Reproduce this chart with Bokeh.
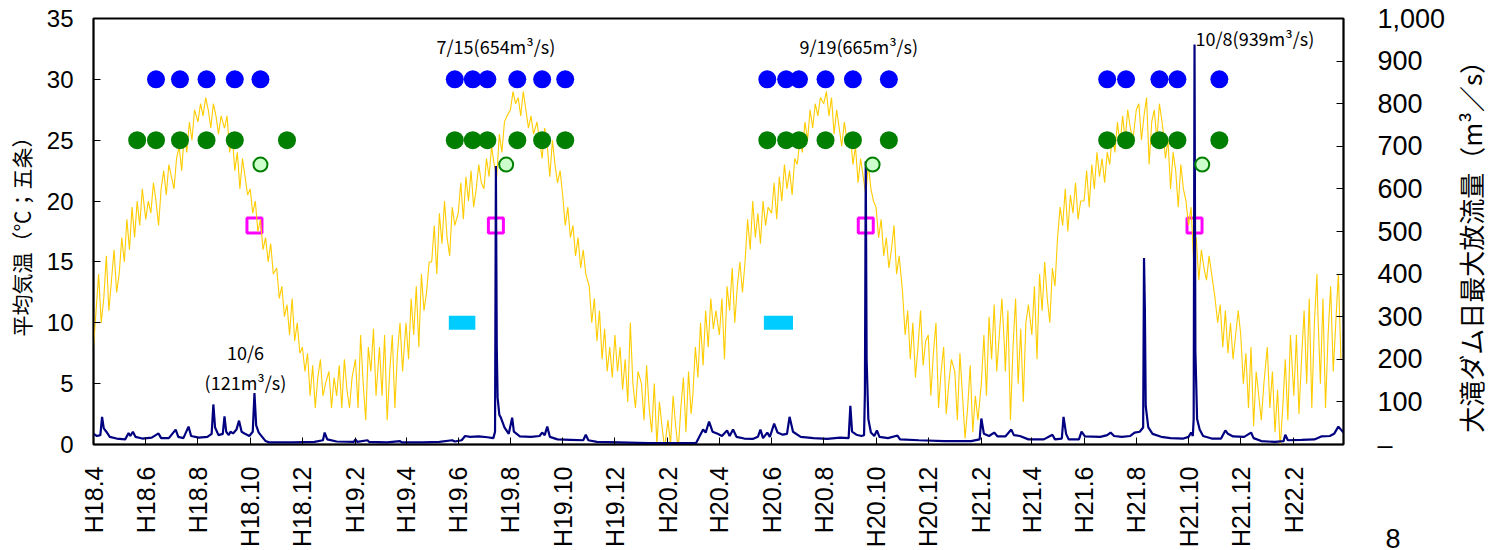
import math
from datetime import datetime
from bokeh.plotting import figure
from bokeh.models import (Range1d, LinearAxis, FixedTicker, CustomJSTickFormatter, Div)
from bokeh.layouts import column, row
from bokeh.embed import file_html
from bokeh.resources import INLINE
from bokeh.core.properties import value

# ---------------- data ----------------
# x-axis tick labels (Heisei year.month, every 2 months)
tick_labels = ["H18.4", "H18.6", "H18.8", "H18.10", "H18.12",
               "H19.2", "H19.4", "H19.6", "H19.8", "H19.10", "H19.12",
               "H20.2", "H20.4", "H20.6", "H20.8", "H20.10", "H20.12",
               "H21.2", "H21.4", "H21.6", "H21.8", "H21.10", "H21.12",
               "H22.2"]

# daily mean temperature (Gojo), read every 3 days (days 1,4,...,28 of each month)
SAMPLE_DAYS = [1, 4, 7, 10, 13, 16, 19, 22, 25, 28]
temp_h18 = [8, 11, 14, 10, 12, 15.5, 11, 13.5, 16, 12.5,
            14, 17, 15, 18.5, 16, 19.5, 17, 20, 18, 21,
            18.5, 20, 19, 21.5, 20, 18, 21, 22.5, 20.5, 23,
            22, 21, 23.5, 24.5, 22.5, 25.5, 24, 26.5, 25, 27.5,
            26.5, 28, 27, 28.5, 27.5, 26, 28, 27, 25.5, 27,
            26, 27, 24, 25.5, 22.5, 24, 21, 23.5, 22, 20.5,
            21, 19, 20, 17.5, 18.5, 16, 17, 15, 16.5, 14,
            14.5, 12, 13, 10.5, 11.5, 9, 12, 8.5, 10, 7.5,
            8, 6, 7.5, 4, 6.5, 3, 5.5, 7, 4, 5,
            6, 3, 5.5, 4, 6.5, 3, 7, 4.5, 3, 5.5,
            7, 3, 9, 5, 2, 8, 6, 9.5, 4, 7,
            8, 4, 9, 2, 6, 9, 3, 7.5, 10, 6]
temp_h19 = [10, 7, 12, 9, 13, 8, 14, 11, 12.5, 15,
            15, 18, 14, 19, 16.5, 20, 17, 15.5, 19.5, 18,
            19, 21.5, 18.5, 22, 20, 22.5, 19.5, 21, 23, 21.5,
            21, 23.5, 22, 24.5, 23, 22, 25.5, 24, 26.5, 27,
            27.5, 29, 28, 28.5, 27, 29, 27.5, 26, 27, 25.5,
            26.5, 25, 23.5, 26, 24.5, 22, 25, 23, 21.5, 22.5,
            20.5, 18, 19.5, 17, 18, 15.5, 17, 14.5, 16, 14,
            13, 10, 12, 8.5, 11, 7, 9.5, 6, 8, 5.5,
            9, 6, 8, 4.5, 7, 3.5, 10, 5, 3, 6,
            5, 2, 6.5, 3, 1, 5, 0, 3.5, 1.5, -0.3,
            2, 0, 4, 1.5, -0.4, 3, 5.5, 1, 6, 2.5,
            4, 8, 5.5, 10, 6.5, 11, 8, 12, 9.5, 11]
temp_h20 = [9, 12, 7, 13, 11, 14.5, 10, 13, 15, 12.5,
            15, 18.5, 16, 20, 17, 19, 16.5, 20, 18, 19.5,
            19, 21.5, 18.5, 22, 20, 23, 21, 22.5, 20.5, 23.5,
            23, 25, 24, 26.5, 25, 27.5, 26, 28, 27, 28.5,
            28, 29, 27, 28.5, 25.5, 27.5, 26, 24.5, 26.5, 25,
            25.5, 23, 24.5, 21.5, 23.5, 22, 20.5, 23, 21, 20,
            19.5, 17, 18.5, 15.5, 17, 14.5, 16, 18, 14, 15.5,
            12.5, 9, 11, 7, 10, 5.5, 8, 11, 6.5, 8.5,
            9, 4, 7.5, 10, 3, 6, 8, 2.5, 5, 7,
            6, 2, 7.5, 4, 0.5, 3, 6.5, 1, 4, 2,
            5, 9, 4, 10.5, 7, 11.5, 6, 9, 12, 8,
            6, 11, 2, 8, 12, 5, 9.5, 3.5, 10, 11.5]
temp_h21 = [9, 13, 7, 14, 11, 15, 12, 10, 14.5, 13,
            17, 19.5, 18, 21, 17.5, 20.5, 19, 21.5, 18.5, 20,
            20, 22.5, 19.5, 23, 21, 24, 22, 23.5, 21.5, 24,
            23, 25.5, 24, 26.5, 24.5, 27, 25, 27.5, 26, 25,
            27.5, 28, 25, 27, 28.5, 23, 26.5, 27.5, 25, 28,
            26, 23.5, 25, 21, 24, 22.5, 19.5, 23, 21, 20,
            18, 19.5, 15, 17, 13.5, 16, 14.5, 13.5, 15.5, 14,
            12, 10, 11.5, 8, 11, 7.5, 10, 7, 9, 11,
            9, 5, 7.5, 3, 8, 1.5, 6, 4, 2, 5,
            8, 3, 6, 1, 4.5, -0.3, 3, 7, 2, 9,
            4, 9, 2.5, 7, 11, 5, 12, 3, 10, 14,
            11, 5, 12, 3, 9, 13, 6, 10, 14, 7]

# Otaki dam daily maximum discharge (m3/s)
q_dates = ["2006-04-01", "2006-04-05", "2006-04-09", "2006-04-11", "2006-04-13", "2006-04-16",
           "2006-04-20", "2006-04-28", "2006-05-08", "2006-05-12", "2006-05-14", "2006-05-17",
           "2006-05-20", "2006-05-28", "2006-06-08", "2006-06-16", "2006-06-19", "2006-06-28",
           "2006-07-06", "2006-07-09", "2006-07-15", "2006-07-21", "2006-07-24", "2006-08-02",
           "2006-08-12", "2006-08-17", "2006-08-19", "2006-08-21", "2006-08-25", "2006-08-30",
           "2006-09-01", "2006-09-03", "2006-09-06", "2006-09-08", "2006-09-11", "2006-09-15",
           "2006-09-18", "2006-09-21", "2006-09-25", "2006-09-30", "2006-10-04", "2006-10-06",
           "2006-10-08", "2006-10-11", "2006-10-15", "2006-10-19", "2006-10-23", "2006-11-20",
           "2006-12-15", "2006-12-25", "2006-12-27", "2006-12-30", "2007-01-10", "2007-01-30",
           "2007-02-01", "2007-02-03", "2007-02-15", "2007-02-17", "2007-03-10", "2007-03-25",
           "2007-03-27", "2007-04-20", "2007-05-10", "2007-05-25", "2007-05-28", "2007-06-05",
           "2007-06-09", "2007-06-15", "2007-06-25", "2007-07-05", "2007-07-12", "2007-07-14",
           "2007-07-15", "2007-07-16", "2007-07-17", "2007-07-19", "2007-07-21", "2007-07-25",
           "2007-07-30", "2007-08-03", "2007-08-05", "2007-08-12", "2007-08-25", "2007-09-04",
           "2007-09-07", "2007-09-10", "2007-09-13", "2007-09-16", "2007-09-25", "2007-10-10",
           "2007-10-25", "2007-10-28", "2007-10-31", "2007-11-10", "2007-12-05", "2008-01-10",
           "2008-02-10", "2008-03-05", "2008-03-13", "2008-03-16", "2008-03-20", "2008-03-24",
           "2008-03-30", "2008-04-04", "2008-04-10", "2008-04-13", "2008-04-17", "2008-04-21",
           "2008-04-30", "2008-05-10", "2008-05-16", "2008-05-19", "2008-05-22", "2008-05-27",
           "2008-05-30", "2008-06-04", "2008-06-08", "2008-06-14", "2008-06-19", "2008-06-22",
           "2008-06-26", "2008-07-05", "2008-07-20", "2008-08-05", "2008-08-20", "2008-08-30",
           "2008-09-01", "2008-09-03", "2008-09-08", "2008-09-14", "2008-09-17", "2008-09-18",
           "2008-09-19", "2008-09-20", "2008-09-22", "2008-09-25", "2008-09-29", "2008-10-02",
           "2008-10-05", "2008-10-15", "2008-10-26", "2008-10-29", "2008-11-20", "2008-12-20",
           "2009-01-20", "2009-01-30", "2009-02-01", "2009-02-04", "2009-02-10", "2009-02-16",
           "2009-02-20", "2009-03-01", "2009-03-08", "2009-03-11", "2009-03-18", "2009-03-28",
           "2009-04-15", "2009-04-25", "2009-04-28", "2009-05-06", "2009-05-08", "2009-05-11",
           "2009-05-14", "2009-05-26", "2009-05-29", "2009-06-02", "2009-06-20", "2009-06-28",
           "2009-07-02", "2009-07-06", "2009-07-15", "2009-07-25", "2009-07-30", "2009-08-05",
           "2009-08-09", "2009-08-10", "2009-08-11", "2009-08-12", "2009-08-15", "2009-08-20",
           "2009-08-30", "2009-09-10", "2009-09-25", "2009-10-01", "2009-10-04", "2009-10-06",
           "2009-10-07", "2009-10-08", "2009-10-09", "2009-10-11", "2009-10-14", "2009-10-18",
           "2009-10-28", "2009-11-08", "2009-11-13", "2009-11-16", "2009-11-22", "2009-12-05",
           "2009-12-13", "2009-12-16", "2009-12-25", "2010-01-10", "2010-01-20", "2010-01-22",
           "2010-01-25", "2010-02-10", "2010-02-25", "2010-03-05", "2010-03-15", "2010-03-20",
           "2010-03-25", "2010-03-31"]
q_values = [25, 20, 22, 65, 38, 30,
            18, 14, 12, 27, 20, 30,
            18, 14, 16, 26, 15, 15,
            35, 18, 15, 42, 20, 16,
            18, 25, 94, 40, 22, 25,
            66, 30, 22, 30, 26, 35,
            56, 30, 25, 20, 30, 121,
            45, 28, 18, 8, 5, 5,
            6, 10, 28, 12, 7, 6,
            12, 6, 10, 6, 5, 8,
            5, 5, 6, 10, 7, 10,
            20, 18, 19, 17, 15, 30,
            654, 230, 110, 70, 62, 40,
            25, 63, 30, 19, 18, 20,
            28, 22, 42, 18, 12, 11,
            10, 23, 10, 6, 5, 3,
            3, 4, 35, 28, 54, 30,
            25, 20, 33, 20, 35, 18,
            14, 13, 18, 35, 15, 28,
            18, 49, 28, 23, 25, 65,
            30, 18, 15, 13, 16, 15,
            91, 30, 23, 20, 22, 120,
            665, 200, 60, 28, 20, 33,
            18, 15, 21, 12, 10, 8,
            8, 12, 61, 25, 20, 28,
            19, 19, 35, 22, 20, 12,
            12, 23, 12, 14, 65, 25,
            12, 12, 30, 19, 18, 22,
            28, 20, 18, 20, 28, 30,
            40, 438, 320, 90, 40, 25,
            18, 15, 14, 18, 28, 20,
            60, 939, 220, 60, 35, 20,
            14, 14, 33, 25, 19, 18,
            28, 15, 8, 6, 8, 23,
            10, 11, 12, 19, 20, 25,
            42, 28]

# peak-discharge events (annotated)
flood_dates = ["2006-10-06", "2007-07-15", "2008-09-19", "2009-10-08"]
flood_peaks = [121, 654, 665, 939]

# survey / event markers
blue_dates = ["2006-06-13", "2006-07-11", "2006-08-11", "2006-09-13", "2006-10-13",
              "2007-05-28", "2007-06-18", "2007-07-05", "2007-08-09", "2007-09-07", "2007-10-04",
              "2008-05-27", "2008-06-18", "2008-07-03", "2008-08-03", "2008-09-04", "2008-10-16",
              "2009-06-28", "2009-07-20", "2009-08-28", "2009-09-18", "2009-11-06"]
green_dates = ["2006-05-22", "2006-06-13", "2006-07-11", "2006-08-11", "2006-09-13", "2006-11-13",
               "2007-05-28", "2007-06-18", "2007-07-05", "2007-08-09", "2007-09-07", "2007-10-04",
               "2008-05-27", "2008-06-18", "2008-07-03", "2008-08-03", "2008-09-04", "2008-10-16",
               "2009-06-28", "2009-07-20", "2009-08-28", "2009-09-18", "2009-11-06"]
lightgreen_dates = ["2006-10-13", "2007-07-27", "2008-09-27", "2009-10-17"]
cyan_start = ["2007-05-21", "2008-05-23"]
cyan_end = ["2007-06-21", "2008-06-26"]

left_title = "平均気温（℃；五条）"
right_title = "大滝ダム日最大放流量（m³／s）"
page_number = "8"

# ---------------- helpers ----------------
EPOCH = datetime(1970, 1, 1)


def d(s):
    return datetime.strptime(s, "%Y-%m-%d")


def ms(dt):
    return (dt - EPOCH).total_seconds() * 1000.0


def heisei_to_date(lbl):
    h, m = lbl[1:].split(".")
    return datetime(1988 + int(h), int(m), 1)


temp_values = temp_h18 + temp_h19 + temp_h20 + temp_h21
temp_dates = []
for k in range(48):
    yy = 2006 + (3 + k) // 12
    mm = (3 + k) % 12 + 1
    for dd in SAMPLE_DAYS:
        temp_dates.append(datetime(yy, mm, dd))

tick_ms = [ms(heisei_to_date(t)) for t in tick_labels]

TICK_FONT = "Liberation Sans"
CJK = "Noto Sans CJK JP"

HAS_ALIGN = "axis_label_align" in LinearAxis.properties()

# ---------------- figure ----------------
W, H = 1510, 550
PW = W if HAS_ALIGN else 1470   # plot width (title column added otherwise)
p = figure(width=PW, height=H, x_axis_type="datetime",
           output_backend="svg", toolbar_location=None,
           x_range=Range1d(d("2006-04-01"), d("2010-03-31")),
           y_range=Range1d(0, 35),
           min_border_left=93, min_border_right=PW - 1343,
           min_border_top=18, min_border_bottom=H - 445)
p.extra_y_ranges = {"q": Range1d(0, 1000)}
p.grid.visible = False
p.outline_line_color = "black"
p.outline_line_width = 2
p.background_fill_color = "white"
p.border_fill_color = "white"

# x axis
xa = p.xaxis[0]
xa.ticker = FixedTicker(ticks=tick_ms)
xa.formatter = CustomJSTickFormatter(
    args=dict(tvals=tick_ms, tlabels=tick_labels),
    code="const i = tvals.findIndex(v => Math.abs(v - tick) < 1000); return i >= 0 ? tlabels[i] : '';")
xa.major_label_orientation = math.pi / 2
xa.major_label_text_font = TICK_FONT
xa.major_label_text_font_size = "25px"
xa.major_label_text_color = "black"
xa.major_label_standoff = 22
xa.major_tick_in = 7
xa.major_tick_out = 0
xa.minor_tick_line_color = None
xa.axis_line_color = "black"
xa.axis_line_width = 1.5

# left axis
ya = p.yaxis[0]
ya.ticker = FixedTicker(ticks=list(range(0, 36, 5)))
ya.axis_label = left_title
ya.axis_label_text_font = CJK
ya.axis_label_text_font_size = "21px"
ya.axis_label_text_font_style = "normal"
ya.axis_label_text_color = "black"
ya.axis_label_standoff = 8
ya.major_label_text_font = TICK_FONT
ya.major_label_text_font_size = "24px"
ya.major_label_text_color = "black"
ya.major_label_standoff = 20
ya.major_tick_in = 7
ya.major_tick_out = 0
ya.minor_tick_line_color = None
ya.axis_line_color = "black"
ya.axis_line_width = 1.5

# right axis
ra = LinearAxis(
    y_range_name="q",
    ticker=FixedTicker(ticks=list(range(0, 1001, 100))),
    formatter=CustomJSTickFormatter(code="""
        if (tick == 0) { return '\u2013'; }
        if (tick >= 1000) { return Math.floor(tick/1000) + ',' + String(tick % 1000).padStart(3, '0'); }
        return String(tick);
    """))
ra.major_label_text_font = TICK_FONT
ra.major_label_text_font_size = "27px"
ra.major_label_text_color = "black"
ra.major_label_standoff = 34
ra.major_tick_in = 7
ra.major_tick_out = 0
ra.minor_tick_line_color = None
ra.axis_line_color = "black"
ra.axis_line_width = 1.5
if HAS_ALIGN:
    ra.axis_label = "\u00a0\u00a0" + right_title
    ra.axis_label_text_font = CJK
    ra.axis_label_text_font_size = "26px"
    ra.axis_label_text_font_style = "normal"
    ra.axis_label_text_color = "black"
    ra.axis_label_standoff = 22
    ra.axis_label_orientation = math.pi / 2
    ra.axis_label_align = "start"
p.add_layout(ra, "right")

# ---------------- glyphs ----------------
flood_dt = [d(s) for s in flood_dates]

# magenta squares (flood dates)
p.scatter(x=flood_dt, y=[18] * len(flood_dt), marker="square", size=15,
          fill_color=None, line_color="#FF00FF", line_width=3)

# temperature
p.line(x=temp_dates, y=temp_values, line_color="#FFCC00", line_width=1.1)

# discharge
p.line(x=[d(s) for s in q_dates], y=q_values, y_range_name="q",
       line_color="#000080", line_width=2.2)

# cyan bars
p.quad(left=[d(s) for s in cyan_start], right=[d(s) for s in cyan_end],
       bottom=9.42, top=10.58, fill_color="#00CCFF", line_color=None)

# blue and green dots
p.scatter(x=[d(s) for s in blue_dates], y=[30] * len(blue_dates), marker="circle",
          size=18, fill_color="#0000FF", line_color=None)
p.scatter(x=[d(s) for s in green_dates], y=[25] * len(green_dates), marker="circle",
          size=18, fill_color="#007F00", line_color=None)
p.scatter(x=[d(s) for s in lightgreen_dates], y=[23] * len(lightgreen_dates), marker="circle",
          size=14, fill_color="#CCFFCC", line_color="#007F00", line_width=2)


# annotations
def fmt(dt, q):
    return f"{dt.month}/{dt.day}({q}m³/s)"


ann_font = value(CJK)
common = dict(text_font=ann_font, text_font_size="18px", text_baseline="middle", text_color="black")
p.text(x=[flood_dt[1]], y=[32.7], text=[fmt(flood_dt[1], flood_peaks[1])],
       text_align="center", **common)
p.text(x=[flood_dt[2]], y=[32.7], text=[fmt(flood_dt[2], flood_peaks[2])], x_offset=-7,
       text_align="center", **common)
p.text(x=[flood_dt[3]], y=[33.4], text=[fmt(flood_dt[3], flood_peaks[3])], x_offset=1,
       text_align="left", **common)
p.text(x=[flood_dt[0]], y=[7.6], text=[f"{flood_dt[0].month}/{flood_dt[0].day}"], x_offset=-9,
       text_align="center", **common)
p.text(x=[flood_dt[0]], y=[5.1], text=[f"({flood_peaks[0]}m³/s)"], x_offset=-9,
       text_align="center", **common)

# page number, overlapping the bottom edge of the canvas
pg = Div(text=page_number, width=40, height=30, margin=(-30, 0, 0, 1373),
         styles={"font-size": "27px", "font-family": "Liberation Sans",
                 "line-height": "38px", "color": "black", "text-align": "center",
                 "overflow": "hidden"})

if HAS_ALIGN:
    top = p
else:
    # right-hand axis title as a rotated text column
    rt = Div(text=right_title, width=W - PW, height=H,
             styles={"font-size": "26px", "font-family": CJK, "color": "black",
                     "writing-mode": "vertical-rl", "text-orientation": "sideways",
                     "transform": "rotate(180deg)", "text-align": "center",
                     "box-sizing": "border-box", "padding-top": "72px",
                     "line-height": "40px", "overflow": "hidden"})
    top = row(p, rt, spacing=0)

layout = column(top, pg, spacing=0)
open("out.html", "w").write(file_html(layout, INLINE))
